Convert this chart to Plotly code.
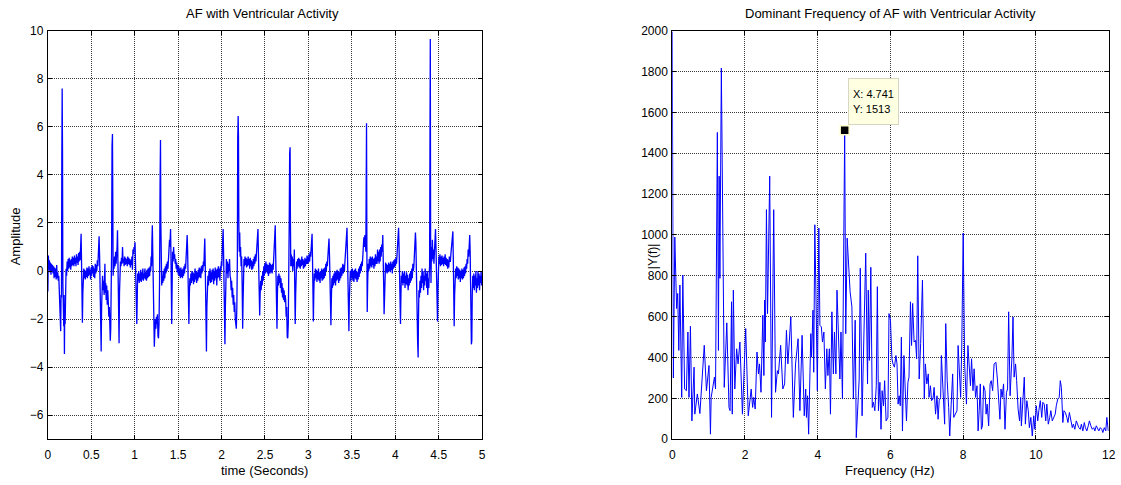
import plotly.graph_objects as go

# ---------------- Left panel: AF with ventricular activity (time, amplitude) ----------------
ecg_sec0 = [
    (0.000,-0.85),(0.006,0.65),(0.012,0.05),(0.018,0.45),(0.024,-0.05),(0.030,0.35),(0.036,-0.15),
    (0.042,0.30),(0.048,0.00),(0.054,0.25),(0.060,-0.10),(0.066,0.20),(0.072,-0.30),(0.078,0.15),
    (0.084,-0.25),(0.090,0.10),(0.096,-0.35),(0.102,0.25),(0.108,-0.30),(0.114,-0.05),(0.120,-0.40),
    (0.126,-0.20),(0.132,-0.90),(0.138,-1.00),(0.144,-1.70),(0.148,-2.50),(0.152,-1.00),(0.157,-1.10),
    (0.161,4.50),(0.165,7.60),(0.169,5.00),(0.173,-0.50),(0.178,-1.40),(0.183,-2.30),(0.187,-1.00),
    (0.191,-3.45),(0.195,-1.40),(0.199,-2.20),(0.204,-0.70),(0.210,0.10),(0.216,-0.20),(0.222,0.40),
    (0.228,0.00),(0.234,0.50),(0.240,0.10),(0.246,0.55),(0.252,0.15),(0.258,0.45),(0.264,0.05),
    (0.270,0.50),(0.276,0.20),(0.282,0.60),(0.288,0.25),(0.294,0.55),(0.300,0.20),(0.306,0.65),
    (0.312,0.30),(0.318,0.55),(0.324,0.20),(0.330,0.70),(0.336,0.35),(0.342,0.60),(0.348,0.25),
    (0.354,0.75),(0.360,0.40),(0.366,0.80),(0.372,0.45),(0.378,1.00),(0.383,1.55),(0.388,0.40),
    (0.393,-0.60),(0.398,-2.15),(0.403,-0.90),(0.408,-0.20),(0.414,0.10),(0.420,-0.30),(0.426,0.05),
    (0.432,-0.35),(0.438,0.00),(0.444,-0.25),(0.450,0.15),(0.456,-0.30),(0.462,0.10),(0.468,-0.20),
    (0.474,0.20),(0.480,-0.15),(0.486,0.05),(0.492,-0.35),(0.498,0.15),(0.504,-0.20),(0.510,0.25),
    (0.516,-0.10),(0.522,0.20),(0.528,-0.25),(0.534,0.10),(0.540,-0.30),(0.546,0.30),(0.552,-0.10),
    (0.558,0.25),(0.564,0.00),(0.570,0.45),(0.576,0.20),(0.582,0.90),(0.590,1.45),(0.596,0.60),
    (0.602,-0.40),(0.608,-1.50),(0.614,-3.35),(0.619,-1.50),(0.624,-0.60),(0.630,-0.20),(0.636,-0.80),
    (0.642,-0.40),(0.648,-1.00),(0.653,-0.30),(0.657,0.30),(0.661,-0.90),(0.666,-0.50),(0.672,-1.20),
    (0.678,-0.60),(0.684,-1.40),(0.690,-0.80),(0.696,-1.30),(0.702,-1.90),(0.708,-1.50),(0.714,-2.00),
    (0.719,-2.90),(0.724,-2.40),(0.729,-1.00),(0.734,0.80),(0.739,5.20),(0.744,5.70),(0.748,3.00),
    (0.752,-0.20),(0.756,0.30),(0.762,0.10),(0.768,0.60),(0.774,0.20),(0.780,0.80),(0.786,0.30),
    (0.792,0.60),(0.797,1.00),(0.802,1.70),(0.806,0.20),(0.810,-1.00),(0.815,-2.30),(0.820,-3.00),
    (0.825,-0.90),(0.830,0.10),(0.836,0.40),(0.842,0.20),(0.848,0.55),(0.854,0.30),(0.860,1.00),
    (0.866,0.35),(0.872,0.50),(0.878,0.20),(0.884,0.60),(0.890,0.25),(0.896,0.55),(0.902,0.30),
    (0.908,0.50),(0.914,0.20),(0.920,0.60),(0.926,0.30),(0.932,0.55),(0.938,0.25),(0.944,0.50),
    (0.950,0.15),(0.956,0.45),(0.962,0.25),(0.968,0.60),(0.974,0.05),(0.980,0.90),(0.986,0.70),
    (0.992,1.00),(0.998,0.90),
]
ecg_sec1 = [
    (1.004,1.20),(1.009,0.40),(1.014,-0.80),(1.019,-1.60),(1.024,-2.20),(1.029,-1.20),(1.034,-0.10),
    (1.040,-0.40),(1.046,0.00),(1.052,-0.50),(1.058,-0.10),(1.064,-0.40),(1.070,0.05),(1.076,-0.45),
    (1.082,-0.05),(1.088,-0.35),(1.094,0.10),(1.100,-0.40),(1.106,-0.10),(1.112,-0.30),(1.118,0.10),
    (1.124,-0.35),(1.130,-0.05),(1.136,-0.40),(1.142,0.05),(1.148,-0.30),(1.154,0.10),(1.160,-0.25),
    (1.166,0.15),(1.172,-0.20),(1.178,0.20),(1.184,0.00),(1.189,0.60),(1.194,0.20),(1.198,1.20),
    (1.203,1.90),(1.208,0.80),(1.213,-0.40),(1.218,-1.80),(1.222,-2.60),(1.226,-3.15),(1.232,-2.50),
    (1.238,-2.00),(1.244,-2.40),(1.250,-1.90),(1.256,-2.20),(1.262,-1.80),(1.268,-2.70),(1.274,-2.80),
    (1.280,-2.20),(1.286,-0.50),(1.292,3.60),(1.297,5.45),(1.301,2.00),(1.305,0.20),(1.311,-0.60),
    (1.317,-0.20),(1.323,-0.50),(1.329,0.00),(1.335,-0.40),(1.341,0.10),(1.347,-0.30),(1.353,0.20),
    (1.359,-0.10),(1.365,0.30),(1.371,0.00),(1.377,0.40),(1.383,0.10),(1.389,0.50),(1.395,0.80),
    (1.401,1.30),(1.405,1.00),(1.409,1.70),(1.413,1.75),(1.417,0.80),(1.421,-0.50),(1.426,-2.20),
    (1.431,-0.60),(1.436,0.80),(1.442,0.40),(1.448,1.00),(1.454,0.50),(1.460,0.70),(1.466,0.30),
    (1.472,0.50),(1.478,0.10),(1.484,0.35),(1.490,-0.05),(1.496,0.25),(1.502,-0.15),(1.508,0.20),
    (1.514,-0.20),(1.520,0.10),(1.526,-0.30),(1.532,0.15),(1.538,-0.25),(1.544,0.05),(1.550,-0.30),
    (1.556,0.10),(1.562,-0.20),(1.568,0.20),(1.574,-0.10),(1.580,0.30),(1.586,0.10),(1.592,0.60),
    (1.598,1.00),(1.604,1.50),(1.609,0.90),(1.614,-0.50),(1.619,-1.60),(1.624,-2.20),(1.629,-1.00),
    (1.635,-0.30),(1.641,-0.60),(1.647,-0.10),(1.653,-0.50),(1.659,0.00),(1.665,-0.40),(1.671,-0.05),
    (1.677,-0.55),(1.683,-0.10),(1.689,-0.45),(1.695,0.10),(1.701,-0.35),(1.707,0.00),(1.713,-0.50),
    (1.719,-0.05),(1.725,-0.40),(1.731,0.05),(1.737,-0.30),(1.743,0.15),(1.749,-0.25),(1.755,0.10),
    (1.761,-0.30),(1.767,0.20),(1.773,-0.10),(1.779,0.25),(1.785,0.00),(1.791,0.40),(1.797,0.20),
    (1.802,0.90),(1.807,1.35),(1.812,0.30),(1.817,-1.00),(1.822,-2.50),(1.826,-3.35),(1.831,-1.50),
    (1.837,-0.50),(1.843,-0.20),(1.849,-0.60),(1.855,0.00),(1.861,-0.40),(1.867,0.10),(1.873,-0.50),
    (1.879,-0.05),(1.885,-0.45),(1.891,0.05),(1.897,-0.35),(1.903,0.10),(1.909,-0.55),(1.915,0.00),
    (1.921,-0.40),(1.927,0.15),(1.933,-0.30),(1.939,0.05),(1.945,-0.60),(1.951,0.10),(1.957,-0.30),
    (1.963,0.20),(1.969,-0.25),(1.975,0.10),(1.981,-0.40),(1.987,0.20),(1.993,0.00),(1.998,0.40),
]
ecg_sec2 = [
    (2.003,0.20),(2.008,0.80),(2.013,1.20),(2.018,1.75),(2.023,0.80),(2.028,-0.80),(2.033,-2.20),
    (2.039,-3.05),(2.044,-1.50),(2.050,-0.20),(2.056,0.50),(2.062,-0.10),(2.068,0.40),(2.074,-0.30),
    (2.080,0.30),(2.086,0.00),(2.092,0.50),(2.098,-0.20),(2.104,-0.30),(2.110,-0.80),(2.116,-0.40),
    (2.122,-1.10),(2.128,-0.70),(2.134,-1.40),(2.140,-1.00),(2.146,-1.70),(2.152,-1.30),(2.158,-2.00),
    (2.164,-2.35),(2.170,-2.40),(2.176,-1.50),(2.182,0.50),(2.186,5.50),(2.191,6.45),(2.195,5.60),
    (2.199,1.90),(2.204,0.80),(2.209,1.60),(2.214,0.60),(2.219,1.00),(2.225,0.20),(2.231,0.60),
    (2.237,-0.50),(2.243,-2.40),(2.248,-1.20),(2.253,0.30),(2.258,0.50),(2.264,0.20),(2.270,0.60),
    (2.276,0.25),(2.282,0.55),(2.288,0.15),(2.294,0.50),(2.300,0.20),(2.306,0.60),(2.312,0.25),
    (2.318,0.50),(2.324,0.10),(2.330,0.55),(2.336,0.20),(2.342,0.45),(2.348,0.05),(2.354,0.40),
    (2.360,0.10),(2.366,0.50),(2.372,0.20),(2.378,0.60),(2.384,0.30),(2.390,0.70),(2.396,0.40),
    (2.402,0.80),(2.408,1.20),(2.414,1.50),(2.419,1.75),(2.424,0.80),(2.429,-0.60),(2.434,-1.60),
    (2.439,-1.85),(2.444,-1.00),(2.450,-0.40),(2.456,-0.80),(2.462,-0.20),(2.468,-0.60),(2.474,0.00),
    (2.480,-0.40),(2.486,0.20),(2.492,-0.20),(2.498,0.30),(2.504,-0.10),(2.510,0.40),(2.516,0.00),
    (2.522,0.30),(2.528,-0.10),(2.534,0.25),(2.540,-0.20),(2.546,0.20),(2.552,0.35),(2.558,-0.10),
    (2.564,0.30),(2.570,-0.05),(2.576,0.25),(2.582,-0.10),(2.588,0.30),(2.594,0.05),(2.600,0.50),
    (2.606,0.90),(2.612,1.40),(2.618,1.90),(2.623,0.70),(2.628,-0.80),(2.633,-2.00),(2.638,-2.40),
    (2.643,-1.00),(2.648,-0.20),(2.654,-0.60),(2.660,-0.10),(2.666,-0.50),(2.672,-0.20),(2.678,-0.70),
    (2.684,-0.30),(2.690,-0.90),(2.696,-0.50),(2.702,-1.10),(2.708,-0.70),(2.714,-1.20),(2.720,-0.80),
    (2.726,-1.30),(2.732,-1.00),(2.738,-1.20),(2.744,-1.90),(2.750,-1.50),(2.756,-2.75),(2.762,-2.80),
    (2.768,-2.20),(2.774,-0.80),(2.779,2.00),(2.784,4.90),(2.789,5.15),(2.793,2.00),(2.797,0.20),
    (2.802,0.70),(2.808,0.20),(2.814,0.60),(2.820,0.00),(2.826,0.50),(2.832,0.20),(2.838,0.90),
    (2.843,-0.80),(2.848,-2.20),(2.853,-1.00),(2.858,0.00),(2.864,0.40),(2.870,0.10),(2.876,0.50),
    (2.882,0.20),(2.888,0.55),(2.894,0.15),(2.900,0.50),(2.906,0.10),(2.912,0.45),(2.918,0.20),
    (2.924,0.60),(2.930,0.25),(2.936,0.50),(2.942,0.10),(2.948,0.45),(2.954,0.15),(2.960,0.55),
    (2.966,0.20),(2.972,0.50),(2.978,0.30),(2.984,0.65),(2.990,0.30),(2.996,0.60),
]
ecg_sec3 = [
    (3.002,0.35),(3.008,0.70),(3.014,0.40),(3.020,0.80),(3.026,0.60),(3.032,1.00),(3.037,1.20),
    (3.042,1.55),(3.047,0.50),(3.052,-0.80),(3.057,-2.10),(3.062,-0.90),(3.068,-0.10),(3.074,-0.40),
    (3.080,0.10),(3.086,-0.30),(3.092,0.05),(3.098,-0.45),(3.104,0.00),(3.110,-0.35),(3.116,0.10),
    (3.122,-0.40),(3.128,-0.05),(3.134,-0.50),(3.140,0.00),(3.146,-0.30),(3.152,0.10),(3.158,-0.40),
    (3.164,0.05),(3.170,-0.35),(3.176,0.10),(3.182,-0.30),(3.188,0.15),(3.194,-0.20),(3.200,0.30),
    (3.206,0.00),(3.212,0.40),(3.218,0.20),(3.224,0.60),(3.230,1.00),(3.237,1.35),(3.243,0.60),
    (3.248,-0.60),(3.253,-1.60),(3.259,-2.25),(3.264,-1.20),(3.270,-0.30),(3.276,-0.70),(3.282,-0.20),
    (3.288,-0.60),(3.294,-0.10),(3.300,-0.50),(3.306,0.00),(3.312,-0.60),(3.318,-0.05),(3.324,-0.40),
    (3.330,0.05),(3.336,-0.35),(3.342,0.00),(3.348,-0.50),(3.354,-0.05),(3.360,-0.40),(3.366,0.10),
    (3.372,-0.30),(3.378,0.15),(3.384,-0.20),(3.390,0.20),(3.396,0.30),(3.402,-0.10),(3.408,0.25),
    (3.414,0.00),(3.420,0.40),(3.426,0.60),(3.432,1.00),(3.438,1.40),(3.444,1.80),(3.449,0.80),
    (3.454,-0.60),(3.459,-1.80),(3.466,-2.50),(3.471,-1.20),(3.476,-0.30),(3.482,0.00),(3.488,-0.40),
    (3.494,0.05),(3.500,-0.30),(3.506,0.10),(3.512,-0.40),(3.518,0.00),(3.524,-0.45),(3.530,0.05),
    (3.536,-0.30),(3.542,0.10),(3.548,-0.35),(3.554,0.00),(3.560,-0.45),(3.566,-0.05),(3.572,-0.35),
    (3.578,0.10),(3.584,-0.25),(3.590,0.20),(3.596,-0.10),(3.602,0.30),(3.608,0.00),(3.614,0.40),
    (3.620,0.20),(3.626,0.60),(3.632,1.00),(3.638,1.40),(3.644,1.00),(3.650,1.50),(3.656,1.20),
    (3.661,0.80),(3.665,3.50),(3.669,6.15),(3.673,1.00),(3.677,-1.70),(3.682,-0.50),(3.688,0.30),
    (3.694,0.00),(3.700,0.50),(3.706,0.10),(3.712,0.60),(3.718,0.20),(3.724,0.55),(3.730,0.15),
    (3.736,0.60),(3.742,0.25),(3.748,0.50),(3.754,0.10),(3.760,0.55),(3.766,0.20),(3.772,0.70),
    (3.778,0.30),(3.784,0.60),(3.790,0.30),(3.796,0.90),(3.802,0.40),(3.808,0.80),(3.814,0.30),
    (3.820,0.90),(3.826,0.40),(3.832,1.00),(3.838,0.60),(3.844,1.10),(3.850,0.80),(3.856,1.50),
    (3.861,0.80),(3.866,-0.50),(3.871,-1.80),(3.876,-0.80),(3.882,0.00),(3.888,0.35),(3.894,-0.05),
    (3.900,0.30),(3.906,-0.10),(3.912,0.25),(3.918,-0.05),(3.924,0.35),(3.930,0.00),(3.936,0.30),
    (3.942,-0.05),(3.948,0.40),(3.954,0.05),(3.960,0.30),(3.966,-0.10),(3.972,0.40),(3.978,0.10),
    (3.984,0.45),(3.990,0.15),(3.996,0.50),
]
ecg_sec4 = [
    (4.002,0.20),(4.008,0.55),(4.014,0.30),(4.020,0.70),(4.026,1.00),(4.032,1.30),(4.038,1.80),
    (4.044,0.90),(4.049,-0.40),(4.054,-1.40),(4.060,-2.20),(4.065,-1.00),(4.070,-0.20),(4.076,-0.50),
    (4.082,0.00),(4.088,-0.60),(4.094,-0.10),(4.100,-0.50),(4.106,0.00),(4.112,-0.70),(4.118,-0.20),
    (4.124,-0.55),(4.130,-0.05),(4.136,-0.60),(4.142,-0.15),(4.148,-0.80),(4.154,-0.30),(4.160,-0.60),
    (4.166,-0.10),(4.172,-0.50),(4.178,0.00),(4.184,-0.40),(4.190,0.10),(4.196,-0.30),(4.202,0.30),
    (4.208,0.00),(4.214,0.20),(4.220,0.60),(4.226,1.00),(4.232,1.60),(4.237,1.20),(4.242,0.50),
    (4.247,-0.80),(4.252,-1.80),(4.257,-2.90),(4.263,-3.60),(4.267,-2.00),(4.272,-0.80),(4.278,-1.10),
    (4.284,-0.40),(4.290,-0.90),(4.296,-0.20),(4.302,-0.70),(4.308,0.10),(4.314,-0.50),(4.320,0.00),
    (4.326,-0.80),(4.332,-0.20),(4.338,-0.60),(4.344,0.10),(4.350,-0.40),(4.356,-0.10),(4.362,-0.70),
    (4.368,0.00),(4.374,-1.00),(4.380,-0.30),(4.386,-0.70),(4.391,-0.10),(4.395,0.20),(4.399,5.00),
    (4.403,9.65),(4.407,1.00),(4.411,-0.50),(4.416,1.00),(4.421,0.40),(4.427,1.30),(4.433,0.50),
    (4.439,0.90),(4.445,0.30),(4.451,0.80),(4.457,1.20),(4.463,1.75),(4.469,0.90),(4.474,-0.30),
    (4.480,-1.20),(4.486,-2.10),(4.491,-0.80),(4.496,0.20),(4.502,0.60),(4.508,0.30),(4.514,0.70),
    (4.520,0.20),(4.526,0.60),(4.532,0.25),(4.538,0.65),(4.544,0.30),(4.550,0.55),(4.556,0.20),
    (4.562,0.60),(4.568,0.30),(4.574,0.70),(4.580,0.25),(4.586,0.55),(4.592,0.20),(4.598,0.50),
    (4.604,0.10),(4.610,0.45),(4.616,0.15),(4.622,0.60),(4.628,0.40),(4.634,0.40),(4.640,0.70),
    (4.646,1.00),(4.652,1.20),(4.658,1.40),(4.663,1.65),(4.668,0.50),(4.673,-1.00),(4.678,-2.30),
    (4.683,-1.00),(4.689,-0.20),(4.695,0.10),(4.701,-0.30),(4.707,0.20),(4.713,-0.20),(4.719,0.15),
    (4.725,-0.35),(4.731,0.10),(4.737,-0.30),(4.743,0.05),(4.749,-0.45),(4.755,0.00),(4.761,-0.30),
    (4.767,0.10),(4.773,-0.35),(4.779,0.05),(4.785,-0.30),(4.791,0.15),(4.797,-0.20),(4.803,0.20),
    (4.809,-0.10),(4.815,0.30),(4.821,0.10),(4.827,0.50),(4.833,0.30),(4.839,0.90),(4.845,0.60),
    (4.851,1.20),(4.857,1.50),(4.862,0.80),(4.867,-0.80),(4.872,-2.00),(4.876,-3.05),(4.881,-2.90),
    (4.886,-1.00),(4.892,-0.20),(4.898,-0.70),(4.904,-0.10),(4.910,-0.80),(4.916,-0.20),(4.922,-0.60),
    (4.928,0.00),(4.934,-0.90),(4.940,-0.30),(4.946,-0.70),(4.952,0.00),(4.958,-0.60),(4.964,-0.10),
    (4.970,-0.80),(4.976,-0.20),(4.982,-0.50),(4.988,0.00),(4.994,-0.60),(5.000,-0.30),
]

# ---------------- Right panel: spectrum magnitude (frequency Hz, |Y(f)|) ----------------
spec_0_4 = [
    (0.00,1995),(0.03,300),(0.07,990),(0.12,640),(0.15,714),(0.18,435),(0.21,755),(0.26,205),
    (0.29,804),(0.34,246),(0.39,238),(0.43,525),(0.46,205),(0.50,553),(0.54,90),(0.60,353),
    (0.62,123),(0.69,222),(0.76,126),(0.80,222),(0.88,460),(0.94,238),(1.01,361),(1.05,25),
    (1.07,205),(1.16,304),(1.19,246),(1.24,1502),(1.27,435),(1.29,1288),(1.31,788),(1.35,1817),
    (1.43,254),(1.50,570),(1.56,156),(1.59,140),(1.63,673),(1.65,123),(1.68,730),(1.72,246),
    (1.77,443),(1.81,369),(1.86,476),(1.93,123),(2.02,542),(2.09,115),(2.17,246),(2.21,156),
    (2.24,205),(2.28,148),(2.33,427),(2.37,320),(2.40,369),(2.44,230),(2.49,607),(2.52,312),
    (2.54,681),(2.56,476),(2.59,1124),(2.62,615),(2.68,1288),(2.73,107),(2.79,1124),(2.84,230),
    (2.89,336),(2.92,320),(2.98,460),(3.04,246),(3.09,271),(3.14,533),(3.18,369),(3.26,599),
    (3.33,107),(3.39,369),(3.46,492),(3.51,140),(3.57,509),(3.63,115),(3.67,246),(3.69,107),
    (3.72,213),(3.75,25),(3.81,517),(3.83,402),(3.87,632),(3.89,328),(3.92,1050),(3.96,615),
    (3.99,238),
]
spec_4_8 = [
    (4.03,1034),(4.06,558),(4.10,550),(4.13,476),(4.17,525),(4.21,246),(4.25,443),(4.28,312),
    (4.32,443),(4.35,123),(4.39,624),(4.43,320),(4.46,525),(4.50,320),(4.53,730),(4.58,394),
    (4.61,295),(4.64,525),(4.68,197),(4.741,1513),(4.77,517),(4.81,985),(4.85,829),(4.89,722),
    (4.94,648),(4.98,197),(5.03,583),(5.06,8),(5.14,295),(5.17,837),(5.22,115),(5.28,648),
    (5.32,911),(5.37,271),(5.39,730),(5.42,386),(5.46,842),(5.50,156),(5.53,181),(5.57,140),
    (5.61,262),(5.64,747),(5.67,140),(5.71,279),(5.74,49),(5.77,238),(5.81,164),(5.84,287),
    (5.88,90),(5.93,107),(5.96,615),(6.00,583),(6.04,394),(6.07,369),(6.11,353),(6.15,410),
    (6.18,369),(6.21,172),(6.24,213),(6.27,164),(6.30,500),(6.33,41),(6.37,410),(6.40,271),
    (6.44,90),(6.48,279),(6.51,304),(6.55,673),(6.58,459),(6.61,665),(6.65,476),(6.69,484),
    (6.72,394),(6.75,898),(6.79,295),(6.83,468),(6.88,779),(6.93,197),(6.96,369),(7.00,271),
    (7.04,320),(7.06,205),(7.10,262),(7.13,189),(7.17,197),(7.20,254),(7.24,123),(7.28,213),
    (7.31,98),(7.34,189),(7.38,205),(7.40,410),(7.45,246),(7.49,74),(7.52,566),(7.56,287),
    (7.60,156),(7.63,16),(7.67,172),(7.71,320),(7.74,107),(7.78,123),(7.83,140),(7.86,459),
    (7.89,369),(7.93,205),(7.96,451),
]
spec_8_12 = [
    (8.00,1009),(8.04,369),(8.09,172),(8.13,459),(8.17,345),(8.20,262),(8.23,394),(8.27,238),
    (8.30,345),(8.34,205),(8.38,262),(8.41,41),(8.44,140),(8.47,271),(8.50,49),(8.53,66),
    (8.56,262),(8.60,238),(8.63,123),(8.66,172),(8.70,66),(8.74,271),(8.77,287),(8.81,238),
    (8.85,369),(8.90,377),(8.94,295),(8.98,205),(9.01,98),(9.04,246),(9.07,205),(9.11,271),
    (9.15,49),(9.19,230),(9.22,246),(9.25,624),(9.29,213),(9.34,402),(9.37,599),(9.40,304),
    (9.44,369),(9.47,287),(9.51,148),(9.55,90),(9.58,205),(9.60,66),(9.64,189),(9.68,304),
    (9.71,74),(9.75,189),(9.79,140),(9.82,57),(9.86,107),(9.90,16),(9.94,115),(9.97,49),
    (10.01,164),(10.05,90),(10.08,140),(10.12,189),(10.16,107),(10.19,181),(10.23,172),(10.27,90),
    (10.30,172),(10.34,74),(10.38,107),(10.41,140),(10.45,90),(10.49,107),(10.53,123),(10.56,164),
    (10.60,197),(10.64,205),(10.67,287),(10.70,254),(10.74,82),(10.77,140),(10.81,131),(10.85,107),
    (10.88,82),(10.92,131),(10.96,98),(11.00,57),(11.03,74),(11.07,49),(11.11,90),(11.14,74),
    (11.18,57),(11.22,49),(11.25,74),(11.29,41),(11.33,82),(11.36,57),(11.40,41),(11.44,66),
    (11.47,90),(11.51,66),(11.55,49),(11.59,57),(11.62,41),(11.66,66),(11.70,49),(11.73,41),
    (11.77,57),(11.81,49),(11.84,33),(11.88,57),(11.92,41),(11.95,107),(11.99,41),
]

datatip_x = 4.741
datatip_y = 1513

left_title = "AF with Ventricular Activity"
right_title = "Dominant Frequency of AF with Ventricular Activity"
left_xlabel = "time (Seconds)"
left_ylabel = "Amplitude"
right_xlabel = "Frequency (Hz)"
right_ylabel = "|Y(f)|"

ecg = ecg_sec0 + ecg_sec1 + ecg_sec2 + ecg_sec3 + ecg_sec4
ecg_t = [p[0] for p in ecg]
ecg_v = [p[1] for p in ecg]
spec = spec_0_4 + spec_4_8 + spec_8_12
spec_f = [p[0] for p in spec]
spec_m = [p[1] for p in spec]

W, H = 1121, 485
FONT = "Liberation Sans, Arial, Helvetica, sans-serif"

# the captured picture maps the page slightly inset; place things in picture pixels
SX, OX = 0.9947, 2.3
SY, OY = 0.965, 8.75

def px_x(p):
    return ((p - OX) / SX) / W

def px_y(p):
    return 1 - ((p - OY) / SY) / H

fig = go.Figure()
fig.add_trace(go.Scatter(x=ecg_t, y=ecg_v, mode="lines",
                         line=dict(color="#0000FF", width=1.3),
                         xaxis="x", yaxis="y", showlegend=False, hoverinfo="skip"))
fig.add_trace(go.Scatter(x=spec_f, y=spec_m, mode="lines",
                         line=dict(color="#0000FF", width=1),
                         xaxis="x2", yaxis="y2", showlegend=False, hoverinfo="skip"))
fig.add_trace(go.Scatter(x=[datatip_x], y=[datatip_y], mode="markers",
                         marker=dict(symbol="square", size=9, color="black",
                                     line=dict(color="#FFFFCC", width=1.5)),
                         xaxis="x2", yaxis="y2", showlegend=False, hoverinfo="skip"))

axis_common = dict(
    showline=True, linecolor="black", linewidth=1, mirror="ticks",
    ticks="inside", ticklen=4, tickcolor="black", tickwidth=1,
    showgrid=True, gridcolor="#3a3a3a", gridwidth=1, griddash="1px,1px",
    zeroline=False, tickfont=dict(family=FONT, size=12, color="black"),
    fixedrange=True,
)

RX0, RX1 = px_x(674.0), px_x(1112.0)

fig.update_layout(
    width=W, height=H, autosize=False,
    margin=dict(l=0, r=0, t=0, b=0, pad=0),
    paper_bgcolor="white", plot_bgcolor="white",
    xaxis=dict(domain=[px_x(47.3), px_x(483.2)], range=[0, 5], tickmode="array",
               tickvals=[0, 0.5, 1, 1.5, 2, 2.5, 3, 3.5, 4, 4.5, 5],
               ticktext=["0", "0.5", "1", "1.5", "2", "2.5", "3", "3.5", "4", "4.5", "5"],
               anchor="y", ticklabelstandoff=4, **axis_common),
    yaxis=dict(domain=[px_y(438.3), px_y(32.3)], range=[-7, 10], tickmode="array",
               tickvals=[-6, -4, -2, 0, 2, 4, 6, 8, 10], anchor="x",
               ticklabelstandoff=1, **axis_common),
    xaxis2=dict(domain=[RX0, RX1], range=[0, 12], tickmode="array",
                tickvals=[0, 2, 4, 6, 8, 10, 12], anchor="y2", ticklabelstandoff=4,
                **axis_common),
    yaxis2=dict(domain=[px_y(438.3), px_y(32.3)], range=[0, 2000], tickmode="array",
                tickvals=list(range(0, 2001, 200)), anchor="x2", ticklabelstandoff=1,
                **axis_common),
)

def label(text, x, y, angle=0, size=13):
    fig.add_annotation(text=text, x=x, y=y, xref="paper", yref="paper",
                       showarrow=False, textangle=angle,
                       font=dict(family=FONT, size=size, color="black"),
                       xanchor="center", yanchor="middle")

label(left_title, px_x(263), px_y(15))
label(right_title, 0.5 * (RX0 + RX1), px_y(15))
label(left_xlabel, 0.5 * (px_x(47.3) + px_x(483.2)), 1 - 477.5 / H)
label(right_xlabel, 0.5 * (RX0 + RX1), 1 - 477.5 / H)
label(left_ylabel, px_x(15), px_y(237), angle=-90)
label(right_ylabel, px_x(654), px_y(256), angle=-90, size=12)

fig.add_annotation(text="X: 4.741<br>Y: 1513", x=px_x(850.5), y=px_y(79.3),
                   xref="paper", yref="paper", showarrow=False,
                   xanchor="left", yanchor="top", align="left", valign="middle",
                   width=41, height=37,
                   bgcolor="#FFFFE1", bordercolor="#D6D6C2", borderwidth=1, borderpad=4,
                   font=dict(family=FONT, size=11, color="black"))

fig.write_html("out.html", config={"displayModeBar": False},
               post_script="document.body.style.margin='0';document.body.style.padding='0';"
                           "document.body.style.overflow='hidden';")
